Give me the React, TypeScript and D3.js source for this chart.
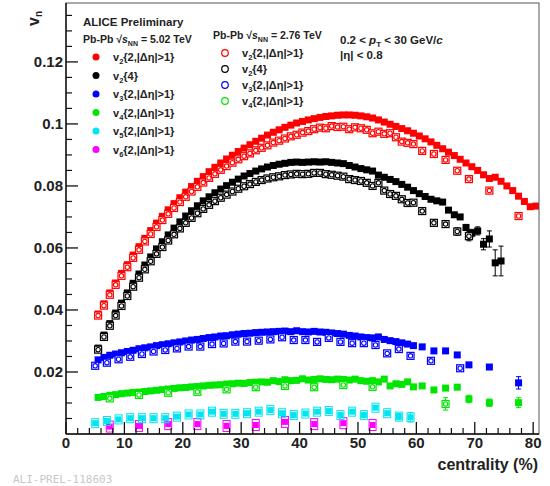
import React from "react";
import * as d3 from "d3";

// ---------- data ----------
// Pb-Pb 5.02 TeV
const centV22_502 = [5.5,6.5,7.5,8.5,9.5,10.5,11.5,12.5,13.5,14.5,15.5,16.5,17.5,18.5,19.5,20.5,21.5,22.5,23.5,24.5,25.5,26.5,27.5,28.5,29.5,30.5,31.5,32.5,33.5,34.5,35.5,36.5,37.5,38.5,39.5,40.5,41.5,42.5,43.5,44.5,45.5,46.5,47.5,48.5,49.5,50.5,51.5,52.5,53.5,54.5,55.5,56.5,57.5,58.5,59.5,60.5,61.5,62.5,63.5,64.5,65.5,66.5,67.5,68.5,69.5,70.5,71.5,72.5,73.5,74.5,75.5,76.5,77.5,78.5,79.5,80.5];
const v22_502 = [0.0387,0.0420,0.0455,0.0487,0.0518,0.0546,0.0577,0.0604,0.0631,0.0656,0.0680,0.0702,0.0723,0.0743,0.0762,0.0780,0.0798,0.0815,0.0830,0.0846,0.0860,0.0874,0.0887,0.0899,0.0911,0.0922,0.0933,0.0944,0.0954,0.0964,0.0973,0.0981,0.0989,0.0996,0.1003,0.1008,0.1013,0.1017,0.1021,0.1024,0.1026,0.1028,0.1029,0.1029,0.1028,0.1026,0.1023,0.1019,0.1013,0.1006,0.0999,0.0992,0.0985,0.0978,0.0970,0.0961,0.0952,0.0942,0.0931,0.0920,0.0909,0.0898,0.0886,0.0874,0.0862,0.0850,0.0836,0.0824,0.0828,0.0815,0.0800,0.0785,0.0767,0.0750,0.0733,0.0735];

const centV24_502 = [5.5,6.5,7.5,8.5,9.5,10.5,11.5,12.5,13.5,14.5,15.5,16.5,17.5,18.5,19.5,20.5,21.5,22.5,23.5,24.5,25.5,26.5,27.5,28.5,29.5,30.5,31.5,32.5,33.5,34.5,35.5,36.5,37.5,38.5,39.5,40.5,41.5,42.5,43.5,44.5,45.5,46.5,47.5,48.5,49.5,50.5,51.5,52.5,53.5,54.5,55.5,56.5,57.5,58.5,59.5,60.5,61.5,62.5,63.5,64.5,65.5,66.5,67.5,68.5,69.5,70.5,71.5,72.5,73.5,74.5];
const v24_502 = [0.0277,0.0319,0.0356,0.0390,0.0422,0.0455,0.0486,0.0516,0.0545,0.0571,0.0597,0.0620,0.0642,0.0664,0.0684,0.0703,0.0720,0.0736,0.0752,0.0765,0.0778,0.0790,0.0801,0.0812,0.0822,0.0832,0.0840,0.0848,0.0855,0.0861,0.0866,0.0870,0.0873,0.0876,0.0877,0.0876,0.0877,0.0878,0.0877,0.0878,0.0876,0.0874,0.0872,0.0866,0.0861,0.0856,0.0852,0.0848,0.0835,0.0828,0.0821,0.0814,0.0805,0.0796,0.0785,0.0775,0.0766,0.0757,0.0752,0.0748,0.0722,0.0707,0.0700,0.0666,0.0648,0.0655,0.0612,0.0629,0.0552,0.0558];
const e24_502 = [0,0,0,0,0,0,0,0,0,0,0,0,0,0,0,0,0,0,0,0,0,0,0,0,0,0,0,0,0,0,0,0,0,0,0,0,0,0,0,0,0,0,0,0,0,0,0,0,0,0,0,0,0,0,0,0,0,0,0,0,0,0,0,0.0010,0.0012,0.0013,0.0018,0.0026,0.0042,0.0048];

const centV32_502 = [5.5,6.5,7.5,8.5,9.5,10.5,11.5,12.5,13.5,14.5,15.5,16.5,17.5,18.5,19.5,20.5,21.5,22.5,23.5,24.5,25.5,26.5,27.5,28.5,29.5,30.5,31.5,32.5,33.5,34.5,35.5,36.5,37.5,38.5,39.5,40.5,41.5,42.5,43.5,44.5,45.5,46.5,47.5,48.5,49.5,50.5,51.5,52.5,53.5,54.5,55.5,56.5,57.5,58.5,59.5,61,63,65,67,69,72.5,77.5];
const v32_502 = [0.0239,0.0247,0.0254,0.0258,0.0262,0.0266,0.0270,0.0275,0.0278,0.0281,0.0285,0.0288,0.0291,0.0294,0.0297,0.0300,0.0303,0.0305,0.0308,0.0311,0.0313,0.0316,0.0317,0.0320,0.0322,0.0324,0.0325,0.0327,0.0328,0.0329,0.0330,0.0331,0.0332,0.0330,0.0333,0.0330,0.0329,0.0331,0.0329,0.0328,0.0326,0.0324,0.0322,0.0318,0.0316,0.0313,0.0311,0.0310,0.0313,0.0305,0.0301,0.0298,0.0294,0.0290,0.0285,0.0281,0.0268,0.0268,0.0255,0.0223,0.0216,0.0165];
const e32_502 = [0,0,0,0,0,0,0,0,0,0,0,0,0,0,0,0,0,0,0,0,0,0,0,0,0,0,0,0,0,0,0,0,0,0,0,0,0,0,0,0,0,0,0,0,0,0,0,0,0,0,0,0,0,0,0,0,0,0,0,0,0.0006,0.0020];

const centV42_502 = centV32_502;
const v42_502 = [0.0118,0.0121,0.0125,0.0127,0.0130,0.0132,0.0134,0.0135,0.0137,0.0139,0.0141,0.0143,0.0145,0.0147,0.0149,0.0150,0.0152,0.0153,0.0155,0.0157,0.0158,0.0159,0.0161,0.0162,0.0164,0.0163,0.0166,0.0167,0.0168,0.0167,0.0172,0.0169,0.0175,0.0172,0.0173,0.0178,0.0174,0.0176,0.0178,0.0176,0.0175,0.0177,0.0176,0.0174,0.0177,0.0172,0.0170,0.0172,0.0168,0.0177,0.0155,0.0162,0.0160,0.0168,0.0152,0.0155,0.0142,0.0148,0.0151,0.0113,0.0101,0.0101];
const e42_502 = [0,0,0,0,0,0,0,0,0,0,0,0,0,0,0,0,0,0,0,0,0,0,0,0,0,0,0,0,0,0,0,0,0,0,0,0,0,0,0,0,0,0,0,0,0,0,0,0,0,0,0,0,0,0,0,0,0,0,0,0.0012,0.0012,0.0016];

const centV52_502 = [5,7,9,11,13,15,17,19,21,23,25,27,29,31,33,35,37,39,41,43,45,47,49,51,53,55,57,59];
const v52_502 = [0.0035,0.0042,0.0047,0.0051,0.0051,0.0051,0.0051,0.0056,0.0063,0.0063,0.0072,0.0065,0.0065,0.0067,0.0072,0.0077,0.0067,0.0061,0.0066,0.0072,0.0074,0.0061,0.0072,0.0061,0.0085,0.0067,0.0056,0.0054];
const e52_502 = [0,0,0,0,0,0,0,0,0,0,0,0,0,0,0,0,0,0,0,0,0,0,0,0,0,0,0.0010,0.0015];

const centV62_502 = [7.5,12.5,17.5,22.5,27.5,32.5,37.5,42.5,47.5,52.5];
const v62_502 = [0.0024,0.0026,0.0032,0.0032,0.0026,0.0029,0.0039,0.0032,0.0035,0.0029];

// Pb-Pb 2.76 TeV
const centV22_276 = [5.5,6.5,7.5,8.5,9.5,10.5,11.5,12.5,13.5,14.5,15.5,16.5,17.5,18.5,19.5,20.5,21.5,22.5,23.5,24.5,25.5,26.5,27.5,28.5,29.5,30.5,31.5,32.5,33.5,34.5,35.5,36.5,37.5,38.5,39.5,40.5,41.5,42.5,43.5,44.5,45.5,46.5,47.5,48.5,49.5,50.5,51.5,52.5,53.5,54.5,55.5,56.5,57.5,58.5,59.5,61,63,65,67,69,72.5,77.5];
const v22_276 = [0.0382,0.0414,0.0449,0.0481,0.0510,0.0538,0.0568,0.0594,0.0621,0.0645,0.0668,0.0690,0.0710,0.0729,0.0748,0.0765,0.0782,0.0797,0.0811,0.0826,0.0839,0.0852,0.0864,0.0875,0.0886,0.0896,0.0905,0.0915,0.0923,0.0931,0.0940,0.0946,0.0953,0.0960,0.0965,0.0972,0.0977,0.0983,0.0988,0.0986,0.0993,0.0990,0.0991,0.0983,0.0989,0.0986,0.0981,0.0970,0.0975,0.0968,0.0970,0.0957,0.0943,0.0939,0.0935,0.0913,0.0903,0.0884,0.0849,0.0822,0.0785,0.0703];

const centV24_276 = [5.5,6.5,7.5,8.5,9.5,10.5,11.5,12.5,13.5,14.5,15.5,16.5,17.5,18.5,19.5,20.5,21.5,22.5,23.5,24.5,25.5,26.5,27.5,28.5,29.5,30.5,31.5,32.5,33.5,34.5,35.5,36.5,37.5,38.5,39.5,40.5,41.5,42.5,43.5,44.5,45.5,46.5,47.5,48.5,49.5,50.5,51.5,52.5,53.5,54.5,55.5,56.5,57.5,58.5,59.5,61,63,65,67,69];
const v24_276 = [0.0272,0.0313,0.0349,0.0382,0.0413,0.0445,0.0475,0.0504,0.0531,0.0557,0.0581,0.0603,0.0624,0.0644,0.0663,0.0681,0.0697,0.0712,0.0726,0.0739,0.0751,0.0762,0.0772,0.0782,0.0791,0.0799,0.0806,0.0813,0.0819,0.0824,0.0828,0.0831,0.0835,0.0837,0.0839,0.0838,0.0839,0.0842,0.0842,0.0838,0.0836,0.0833,0.0830,0.0822,0.0819,0.0816,0.0810,0.0800,0.0810,0.0785,0.0774,0.0768,0.0757,0.0745,0.0746,0.0719,0.0681,0.0677,0.0653,0.0638];
const e24_276 = [0,0,0,0,0,0,0,0,0,0,0,0,0,0,0,0,0,0,0,0,0,0,0,0,0,0,0,0,0,0,0,0,0,0,0,0,0,0,0,0,0,0,0,0,0,0,0,0,0,0,0,0,0,0,0,0,0,0,0.0012,0.0015];

const centV32_276 = [5,7,9,11,13,15,17,19,21,23,25,27,29,31,33,35,37,39,41,43,45,47,49,51,53,55,57,59,62.5,67.5];
const v32_276 = [0.0220,0.0230,0.0241,0.0249,0.0258,0.0266,0.0271,0.0276,0.0282,0.0282,0.0290,0.0292,0.0298,0.0298,0.0301,0.0305,0.0312,0.0303,0.0303,0.0297,0.0310,0.0297,0.0293,0.0293,0.0287,0.0260,0.0274,0.0252,0.0236,0.0212];

const centV42_276 = [7.5,12.5,17.5,22.5,27.5,32.5,37.5,42.5,47.5,52.5,65];
const v42_276 = [0.0115,0.0126,0.0133,0.0136,0.0144,0.0151,0.0155,0.0151,0.0158,0.0152,0.0097];
const e42_276 = [0,0,0,0,0,0,0,0,0,0,0.0020];

const yMajorTicks = [0.02, 0.04, 0.06, 0.08, 0.1, 0.12];
const yTickLabels = ["0.02", "0.04", "0.06", "0.08", "0.1", "0.12"];
const xMajorTicks = [0, 10, 20, 30, 40, 50, 60, 70, 80];

const RED = "#ff0000", BLACK = "#000000", BLUE = "#0000ff", GREEN = "#00e600", CYAN = "#00e5f0", MAGENTA = "#ff00ff";

type Series = { cent: number[]; val: number[]; err?: number[]; color: string; open: boolean; boxH?: number };

const seriesList: Series[] = [
  { cent: centV62_502, val: v62_502, color: MAGENTA, open: false, boxH: 11 },
  { cent: centV52_502, val: v52_502, err: e52_502, color: CYAN, open: false, boxH: 9 },
  { cent: centV42_502, val: v42_502, err: e42_502, color: GREEN, open: false },
  { cent: centV32_502, val: v32_502, err: e32_502, color: BLUE, open: false },
  { cent: centV24_502, val: v24_502, err: e24_502, color: BLACK, open: false },
  { cent: centV22_502, val: v22_502, color: RED, open: false },
  { cent: centV42_276, val: v42_276, err: e42_276, color: GREEN, open: true },
  { cent: centV32_276, val: v32_276, color: BLUE, open: true },
  { cent: centV24_276, val: v24_276, err: e24_276, color: BLACK, open: true },
  { cent: centV22_276, val: v22_276, color: RED, open: true },
];

const FONT = "'Liberation Sans', Arial, Helvetica, sans-serif";

function VLabel({ x, y, sub, rest, size = 11 }: { x: number; y: number; sub: string; rest: string; size?: number }) {
  return (
    <text x={x} y={y} fontFamily={FONT} fontWeight="bold" fontSize={size} fill="#222">
      v<tspan fontSize={size * 0.68} dy={3}>{sub}</tspan>
      <tspan dy={-3}>{rest}</tspan>
    </text>
  );
}

export default function App() {
  const L = 66, R = 539, T = 3, B = 434;
  const x = d3.scaleLinear().domain([0, 81]).range([L, R]);
  const y = d3.scaleLinear().domain([0, 0.139]).range([B, T]);

  const yMinor = d3.range(0.005, 0.139, 0.005).filter((v) => !yMajorTicks.some((m) => Math.abs(m - v) < 1e-6));
  const xMinor = d3.range(0, 81, 2).filter((v) => v % 10 !== 0);

  const s = 7;

  return (
    <svg width={550} height={486} style={{ position: "absolute", left: 0, top: 0, background: "#fff" }}>
      <defs>
        <clipPath id="plotclip">
          <rect x={L} y={T} width={R - L} height={B - T} />
        </clipPath>
      </defs>
      <rect x={0} y={0} width={550} height={486} fill="#fff" />

      {/* data */}
      <g clipPath="url(#plotclip)">
        {seriesList.map((sr, si) => (
          <g key={si}>
            {sr.val.map((v, i) => {
              const cx = x(sr.cent[i]);
              const cy = y(v);
              const e = sr.err ? sr.err[i] : 0;
              const bh = sr.boxH ?? s;
              return (
                <g key={i}>
                  {e > 0 && (
                    <g stroke={sr.color} strokeWidth={1}>
                      <line x1={cx} x2={cx} y1={y(v + e)} y2={y(v - e)} />
                      <line x1={cx - 2.5} x2={cx + 2.5} y1={y(v + e)} y2={y(v + e)} />
                      <line x1={cx - 2.5} x2={cx + 2.5} y1={y(v - e)} y2={y(v - e)} />
                    </g>
                  )}
                  {sr.open ? (
                    <g>
                      <rect x={cx - s / 2} y={cy - bh / 2} width={s} height={bh} fill="#fff" stroke={sr.color} strokeWidth={1.2} />
                      <circle cx={cx} cy={cy} r={2.2} fill="#fff" stroke={sr.color} strokeWidth={1.1} />
                    </g>
                  ) : sr.boxH ? (
                    <g>
                      <rect x={cx - s / 2} y={cy - bh / 2} width={s} height={bh} fill="none" stroke={sr.color} strokeWidth={1} />
                      <rect x={cx - 3} y={cy - 3} width={6} height={6} fill={sr.color} />
                    </g>
                  ) : (
                    <rect x={cx - s / 2} y={cy - s / 2} width={s} height={s} fill={sr.color} />
                  )}
                </g>
              );
            })}
          </g>
        ))}
      </g>

      {/* frame */}
      <rect x={L} y={T} width={R - L} height={B - T} fill="none" stroke="#555" strokeWidth={1} />
      <line x1={L} x2={L} y1={T} y2={B} stroke="#111" strokeWidth={1.4} />
      <line x1={L} x2={R} y1={B} y2={B} stroke="#111" strokeWidth={1.4} />

      {/* y ticks */}
      {yMajorTicks.map((t, i) => (
        <g key={"ym" + i}>
          <line x1={L} x2={L + 12} y1={y(t)} y2={y(t)} stroke="#111" strokeWidth={1.3} />
          <text x={63} y={y(t) + 5} textAnchor="end" fontFamily={FONT} fontWeight="bold" fontSize={15} fill="#222">
            {yTickLabels[i]}
          </text>
        </g>
      ))}
      {yMinor.map((t, i) => (
        <line key={"yn" + i} x1={L} x2={L + 6} y1={y(t)} y2={y(t)} stroke="#111" strokeWidth={1.2} />
      ))}

      {/* x ticks */}
      {xMajorTicks.map((t, i) => (
        <g key={"xm" + i}>
          <line x1={x(t)} x2={x(t)} y1={B} y2={B - 12} stroke="#111" strokeWidth={1.3} />
          <text x={x(t)} y={448} textAnchor="middle" fontFamily={FONT} fontWeight="bold" fontSize={15} fill="#222">
            {t}
          </text>
        </g>
      ))}
      {xMinor.map((t, i) => (
        <line key={"xn" + i} x1={x(t)} x2={x(t)} y1={B} y2={B - 6} stroke="#111" strokeWidth={1.2} />
      ))}

      {/* axis titles */}
      <text x={538} y={470} textAnchor="end" fontFamily={FONT} fontWeight="bold" fontSize={16} fill="#222">
        centrality (%)
      </text>
      <text transform="translate(39,26) rotate(-90)" fontFamily={FONT} fontWeight="bold" fontSize={16} fill="#222">
        v<tspan fontSize={10} dy={3}>n</tspan>
      </text>

      {/* legend 1 */}
      <text x={83} y={26} fontFamily={FONT} fontWeight="bold" fontSize={11.5} fill="#222">ALICE Preliminary</text>
      <text x={83} y={43} fontFamily={FONT} fontWeight="bold" fontSize={10.5} fill="#222">
        Pb-Pb √<tspan fontStyle="italic">s</tspan><tspan fontSize={7} dy={3}>NN</tspan><tspan dy={-3}> = 5.02 TeV</tspan>
      </text>
      {[
        { c: RED, sub: "2", rest: "{2,|Δη|>1}" },
        { c: BLACK, sub: "2", rest: "{4}" },
        { c: BLUE, sub: "3", rest: "{2,|Δη|>1}" },
        { c: GREEN, sub: "4", rest: "{2,|Δη|>1}" },
        { c: CYAN, sub: "5", rest: "{2,|Δη|>1}" },
        { c: MAGENTA, sub: "6", rest: "{2,|Δη|>1}" },
      ].map((e, i) => {
        const ly = 57 + i * 18.5;
        return (
          <g key={"l1" + i}>
            <circle cx={96} cy={ly} r={3.5} fill={e.c} />
            <VLabel x={113} y={ly + 4} sub={e.sub} rest={e.rest} />
          </g>
        );
      })}

      {/* legend 2 */}
      <text x={213} y={39} fontFamily={FONT} fontWeight="bold" fontSize={10.5} fill="#222">
        Pb-Pb √<tspan fontStyle="italic">s</tspan><tspan fontSize={7} dy={3}>NN</tspan><tspan dy={-3}> = 2.76 TeV</tspan>
      </text>
      {[
        { c: RED, sub: "2", rest: "{2,|Δη|>1}" },
        { c: BLACK, sub: "2", rest: "{4}" },
        { c: BLUE, sub: "3", rest: "{2,|Δη|>1}" },
        { c: GREEN, sub: "4", rest: "{2,|Δη|>1}" },
      ].map((e, i) => {
        const ly = 53 + i * 16;
        return (
          <g key={"l2" + i}>
            <circle cx={225} cy={ly} r={3.3} fill="#fff" stroke={e.c} strokeWidth={1.2} />
            <VLabel x={242} y={ly + 4} sub={e.sub} rest={e.rest} />
          </g>
        );
      })}

      <text x={340} y={44} fontFamily={FONT} fontWeight="bold" fontSize={11.5} fill="#222">
        0.2 &lt; <tspan fontStyle="italic">p</tspan><tspan fontSize={8} dy={3}>T</tspan><tspan dy={-3}> &lt; 30 GeV/</tspan><tspan fontStyle="italic">c</tspan>
      </text>
      <text x={340} y={59} fontFamily={FONT} fontWeight="bold" fontSize={11.5} fill="#222">
        |η| &lt; 0.8
      </text>

      {/* watermark */}
      <text x={13} y={483} fontFamily="'DejaVu Sans Mono', monospace" fontSize={11} fill="#c8c8c8">
        ALI-PREL-118603
      </text>
    </svg>
  );
}
